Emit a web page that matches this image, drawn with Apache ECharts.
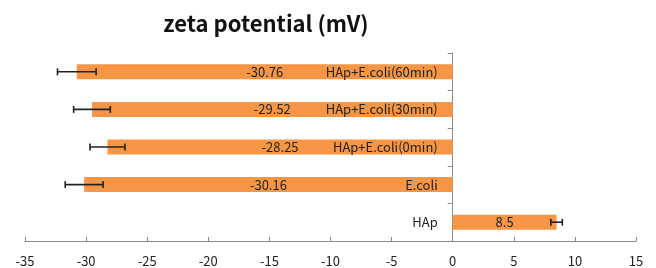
<!DOCTYPE html>
<html><head><meta charset="utf-8">
<script src="https://cdn.jsdelivr.net/npm/echarts@6/dist/echarts.min.js"></script>
<style>html,body{margin:0;padding:0;background:#fff}#c{width:656px;height:268px}</style>
</head><body><div id="c"></div>
<script>
const categories = ['HAp', 'E.coli', 'HAp+E.coli(0min)', 'HAp+E.coli(30min)', 'HAp+E.coli(60min)'];
const values = [8.5, -30.16, -28.25, -29.52, -30.76];
const errors = [0.47, 1.55, 1.43, 1.5, 1.58];
const xTicks = [-35, -30, -25, -20, -15, -10, -5, 0, 5, 10, 15];

const FONT = '"Noto Sans CJK KR", "Noto Sans", sans-serif';
const chart = echarts.init(document.getElementById('c'));
chart.setOption({
  animation: false,
  title: {
    text: 'zeta potential (mV)', left: 261, top: 8, textAlign: 'center',
    textStyle: {fontFamily: FONT, fontWeight: 'bold', fontSize: 22, color: '#111'}
  },
  grid: {left: 25, right: 20, top: 53, bottom: 27, containLabel: false, outerBoundsMode: 'none'},
  xAxis: {
    type: 'value', min: xTicks[0], max: xTicks[xTicks.length - 1], interval: 5,
    axisLine: {show: true, lineStyle: {color: '#8a8a8a', width: 1}},
    axisTick: {show: true, inside: true, length: 4, lineStyle: {color: '#8a8a8a'}},
    splitLine: {show: false},
    axisLabel: {fontFamily: FONT, fontSize: 13, color: '#222', margin: 14}
  },
  yAxis: {
    type: 'category', data: categories,
    axisLine: {show: true, onZero: true, lineStyle: {color: '#8a8a8a', width: 1}},
    axisTick: {show: true, length: 5, lineStyle: {color: '#8a8a8a'}},
    axisLabel: {show: false}
  },
  series: [
    {
      type: 'bar', data: values, barWidth: '40%',
      itemStyle: {color: '#F79646'},
      label: {show: true, position: 'inside', fontFamily: FONT, fontSize: 13, color: '#222',
        formatter: p => String(p.value)}
    },
    {
      type: 'custom', z: 5,
      data: values.map((v, i) => [v, i, errors[i]]),
      renderItem: function (params, api) {
        const v = api.value(0), i = api.value(1), e = api.value(2);
        const lo = api.coord([v - e, i]);
        const hi = api.coord([v + e, i]);
        const h = 3.5;
        const st = {stroke: '#222', lineWidth: 1.6};
        return {type: 'group', children: [
          {type: 'line', shape: {x1: lo[0], y1: lo[1], x2: hi[0], y2: hi[1]}, style: st},
          {type: 'line', shape: {x1: lo[0], y1: lo[1] - h, x2: lo[0], y2: lo[1] + h}, style: st},
          {type: 'line', shape: {x1: hi[0], y1: hi[1] - h, x2: hi[0], y2: hi[1] + h}, style: st}
        ]};
      }
    },
    {
      type: 'custom', z: 6,
      data: categories.map((c, i) => [0, i]),
      renderItem: function (params, api) {
        const p = api.coord([0, api.value(1)]);
        return {type: 'text', x: p[0] - 15, y: p[1],
          style: {text: categories[params.dataIndex], textAlign: 'right', textVerticalAlign: 'middle',
            fontFamily: FONT, fontSize: 13, fill: '#222'}};
      }
    }
  ]
});
</script></body></html>
